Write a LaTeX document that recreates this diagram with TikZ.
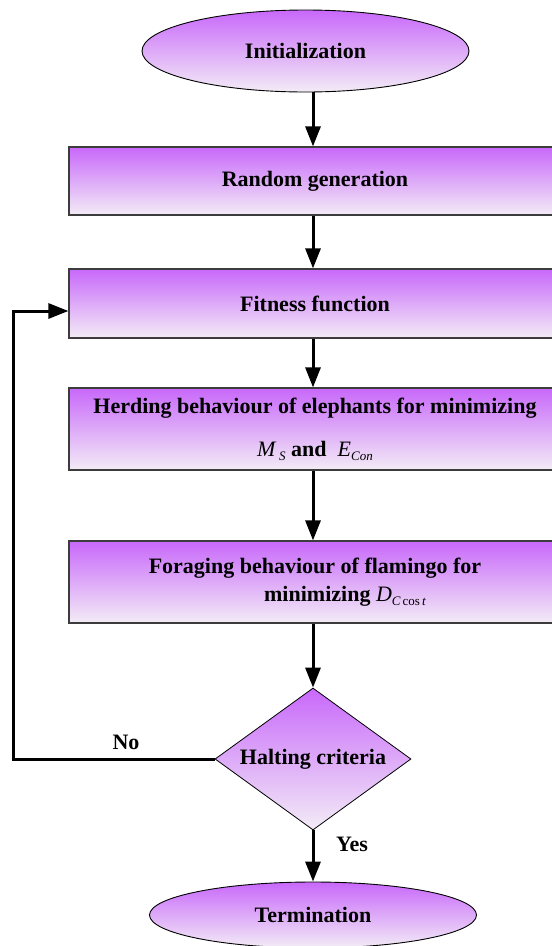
\documentclass[tikz,border=0pt]{standalone}
\usepackage{fontspec}
\setmainfont{Liberation Serif}
\usetikzlibrary{shapes.geometric,arrows.meta}
\definecolor{topv}{RGB}{200,104,250}
\definecolor{botv}{RGB}{243,236,246}
\definecolor{edgegray}{RGB}{60,60,60}
\newcommand\vsub[1]{\raisebox{-0.4ex}{\fontsize{13}{13}\selectfont\mdseries\itshape #1}}
\newcommand\mvar[1]{{\mdseries\itshape #1}}
\begin{document}
\begin{tikzpicture}[x=1pt,y=-1pt,
 font=\fontsize{22}{26}\selectfont\bfseries,
 proc/.style={rectangle, draw=edgegray, line width=1.2pt, top color=topv, bottom color=botv, minimum width=492pt, inner sep=0pt, align=center},
 term/.style={ellipse, draw=black, line width=0.9pt, top color=topv, bottom color=botv, inner sep=0pt},
 arr/.style={-{Triangle[width=15pt,length=20pt]}, line width=3pt},
 lbl/.style={inner sep=0pt}]
\useasboundingbox (0,0) rectangle (552,946);

\node[term, minimum width=327pt, minimum height=82pt] (init) at (305.5,51) {Initialization};
\node[proc, minimum height=68pt] (rg) at (315,181) {Random generation};
\node[proc, minimum height=69pt] (fit) at (315,303.5) {Fitness function};
\node[proc, minimum height=82pt] (herd) at (315,429) {Herding behaviour of elephants for minimizing\\[17pt]
  \mvar{M}\,\vsub{S} and\ \ \mvar{E}\vsub{Con}};
\node[proc, minimum height=82pt] (forage) at (315,582) {Foraging behaviour of flamingo for\\[2pt]
  \hspace*{60pt}minimizing \mvar{D}\vsub{C\,{\upshape cos}\,t}};
\node[diamond, draw=black, line width=0.8pt, top color=topv, bottom color=botv, minimum width=196pt, minimum height=142pt, inner sep=0pt] (hc) at (313,759) {};
\node[lbl] (hctext) at (hc) {Halting criteria};
\node[term, minimum width=327pt, minimum height=66pt] (term) at (313,915) {Termination};

\draw[arr] (init.south -| 313,0) -- (rg.north -| 313,0);
\draw[arr] (rg.south -| 313,0) -- (fit.north -| 313,0);
\draw[arr] (fit.south -| 313,0) -- (herd.north -| 313,0);
\draw[arr] (herd.south -| 313,0) -- (forage.north -| 313,0);
\draw[arr] (forage.south -| 313,0) -- (hc.north);
\draw[arr] (hc.south) -- (term.north);

\coordinate (nl) at (13,759);
\coordinate (nu) at (13,311);
\draw[arr] (hc.west) -- (nl) -- (nu) -- (nu -| fit.west);

\node[lbl] (no) at (126,742) {No};
\node[lbl] (yes) at (352,844) {Yes};
\end{tikzpicture}
\end{document}
